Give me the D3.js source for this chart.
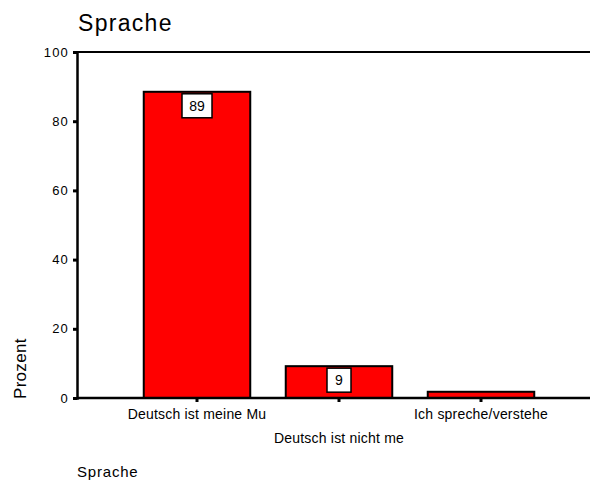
<!DOCTYPE html>
<html>
<head>
<meta charset="utf-8">
<script src="https://cdn.jsdelivr.net/npm/d3@7"></script>
<style>
  body { margin: 0; background: #fff; }
  svg { display: block; }
  text { font-family: "Liberation Sans", Arial, sans-serif; fill: #000; }
</style>
</head>
<body>
<svg id="chart" width="590" height="490"></svg>
<script>
const categories = ["Deutsch ist meine Mu", "Deutsch ist nicht me", "Ich spreche/verstehe"];
const values = [88.5, 9.2, 1.8];
const yTicks = [0, 20, 40, 60, 80, 100];
const title = "Sprache";
const yLabel = "Prozent";
const footer = "Sprache";

(function() {
const svg = d3.select("#chart");
const pLeft = 77, pRight = 590, pTop = 52, pBottom = 398;

const x = d3.scaleBand().domain(categories).range([126, 552])
  .paddingInner(0.25).paddingOuter(0.125);
const y = d3.scaleLinear().domain([0, 100]).range([pBottom, pTop]);

// title
svg.append("text").attr("x", 78).attr("y", 31)
  .attr("font-size", 23).attr("letter-spacing", 1.3).text(title);

// top frame line
svg.append("line").attr("x1", pLeft).attr("x2", pRight).attr("y1", pTop).attr("y2", pTop)
  .attr("stroke", "#000").attr("stroke-width", 2);

// bars
svg.selectAll("rect.bar").data(values).join("rect").attr("class", "bar")
  .attr("x", (d, i) => x(categories[i]))
  .attr("width", x.bandwidth())
  .attr("y", d => y(d))
  .attr("height", d => y(0) - y(d))
  .attr("fill", "#ff0000").attr("stroke", "#000").attr("stroke-width", 2);

// value labels
const labeled = values.map((v, i) => ({ v, i })).filter(d => d.v >= 5);
const lg = svg.selectAll("g.lab").data(labeled).join("g").attr("class", "lab");
lg.each(function(d) {
  const g = d3.select(this);
  const cx = x(categories[d.i]) + x.bandwidth() / 2;
  const txt = String(Math.round(d.v));
  const w = txt.length === 1 ? 24 : 30;
  const yy = y(d.v) + 2;
  g.append("rect").attr("x", cx - w / 2).attr("y", yy).attr("width", w).attr("height", 24)
    .attr("fill", "#fff").attr("stroke", "#000").attr("stroke-width", 1.5);
  g.append("text").attr("x", cx).attr("y", yy + 17).attr("text-anchor", "middle")
    .attr("font-size", 14).text(txt);
});

// y axis
const yAxis = svg.append("g").attr("transform", `translate(${pLeft},0)`)
  .call(d3.axisLeft(y).tickValues(yTicks).tickSize(4).tickPadding(4));
yAxis.select(".domain").attr("stroke-width", 2.5);
yAxis.selectAll(".tick line").attr("stroke-width", 3);
yAxis.selectAll(".tick text").attr("font-size", 13).attr("letter-spacing", 1.2)
  .attr("font-family", "'Liberation Sans', Arial, sans-serif").attr("fill", "#000");

// x axis
const xAxis = svg.append("g").attr("transform", `translate(0,${pBottom})`)
  .call(d3.axisBottom(x).tickSize(4).tickFormat(""));
xAxis.select(".domain").remove();
xAxis.selectAll(".tick line").attr("stroke-width", 3);
svg.append("line").attr("x1", pLeft).attr("x2", pRight).attr("y1", pBottom).attr("y2", pBottom)
  .attr("stroke", "#000").attr("stroke-width", 2.5);

// staggered category labels
svg.selectAll("text.cat").data(categories).join("text").attr("class", "cat")
  .attr("x", d => x(d) + x.bandwidth() / 2)
  .attr("y", (d, i) => i % 2 === 0 ? 419 : 443)
  .attr("text-anchor", "middle").attr("font-size", 14).attr("letter-spacing", 0.2)
  .text(d => d);

// y label
svg.append("text").attr("transform", "translate(26,399) rotate(-90)")
  .attr("font-size", 17).attr("letter-spacing", 0.3).text(yLabel);

// footer
svg.append("text").attr("x", 77).attr("y", 477)
  .attr("font-size", 15).attr("letter-spacing", 0.8).text(footer);
})();
</script>
</body>
</html>
